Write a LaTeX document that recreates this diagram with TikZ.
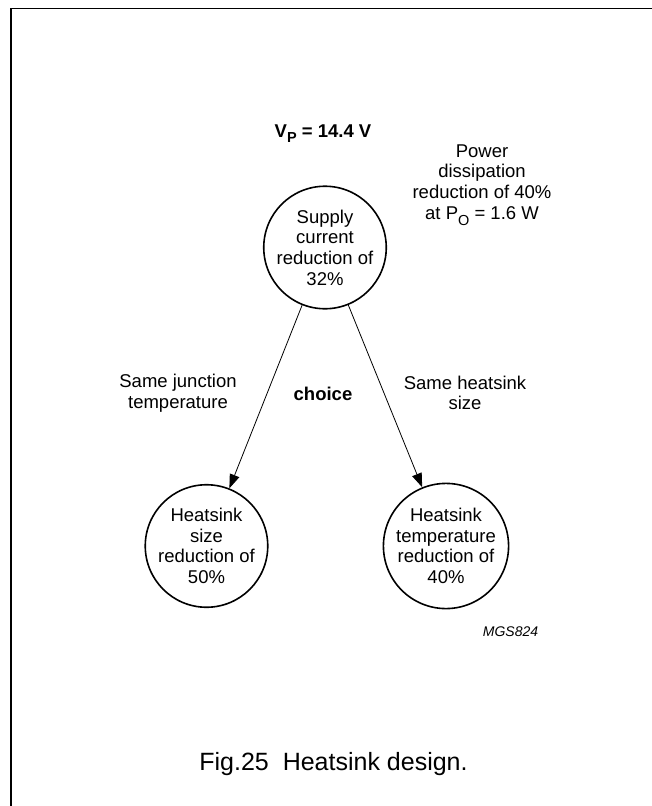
\documentclass[tikz,border=0pt]{standalone}
\usepackage{fontspec}
\setmainfont{Liberation Sans}
\usetikzlibrary{arrows.meta}
\newcommand\lowsub[1]{\raisebox{-0.32em}{\fontsize{14.5}{14.5}\selectfont #1}}
\begin{document}
\begin{tikzpicture}[x=1pt,y=-1pt,
  txt/.style={font=\fontsize{18.5}{20.7}\selectfont},
  bubble/.style={circle,draw,line width=1.6pt,minimum size=121pt,inner sep=0pt,align=center,txt},
  lbl/.style={align=center,inner sep=0pt,txt},
  conn/.style={line width=0.8pt,-{Triangle[length=14pt,width=10pt]}}]
\useasboundingbox (0,0) rectangle (652,806);
\coordinate (fa) at (11,806);
\coordinate (fb) at (11,8.5);
\coordinate (fc) at (652,8.5);
\draw[line width=1.5pt] (fa) -- (fb) -- (fc);

\node[bubble] (top) at (325,247.5) {Supply\\current\\reduction of\\32\%};
\node[bubble] (left) at (206.5,546) {Heatsink\\size\\reduction of\\50\%};
\node[bubble] (right) at (446,546) {Heatsink\\temperature\\reduction of\\40\%};

\draw[conn] (top) -- (left);
\draw[conn] (top) -- (right);

\node[lbl,anchor=base,font=\fontsize{18.5}{20.7}\selectfont\bfseries] (vp) at (323,137) {V\lowsub{P} = 14.4 V};
\node[lbl] (pd) at (482,185) {Power\\dissipation\\reduction of 40\%\\at P\lowsub{O} = 1.6 W};
\node[lbl] (sj) at (178,393) {Same junction\\temperature};
\node[lbl] (sh) at (465,393) {Same heatsink\\size};
\node[lbl,anchor=base,font=\fontsize{18.5}{20.7}\selectfont\bfseries] (ch) at (323,400) {choice};
\node[anchor=base,inner sep=0pt,font=\fontsize{14}{14}\selectfont\itshape] (code) at (510.5,636) {MGS824};
\node[anchor=base,inner sep=0pt,font=\fontsize{25}{25}\selectfont] (cap) at (333.5,770) {Fig.25\ \ Heatsink design.};
\end{tikzpicture}
\end{document}
